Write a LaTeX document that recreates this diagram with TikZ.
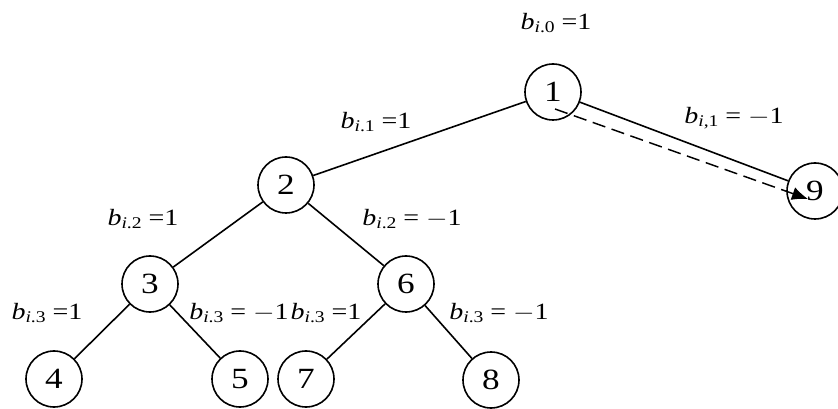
\documentclass[tikz,border=0pt]{standalone}
\usepackage{fontspec}
\usepackage{graphicx}
\setmainfont{Liberation Serif}
\usetikzlibrary{arrows.meta}
\newcommand\wideTxt[1]{\scalebox{1.2}[1]{#1}}
\newcommand\blab[2]{\wideTxt{\textit{b}\textsubscript{\textit{i}#1}\hspace{0.22em}#2}}
\tikzset{
  nd/.style={circle, draw, line width=1.2pt, minimum size=42pt, inner sep=0pt,
    font=\fontsize{22}{22}\selectfont},
  lab/.style={inner sep=0pt, font=\fontsize{17.5}{19}\selectfont},
  edge/.style={line width=1.2pt},
  dasharrow/.style={line width=1.1pt, dash pattern=on 10pt off 5pt,
    -{Latex[length=12pt,width=10pt]}}
}
\begin{document}
\begin{tikzpicture}[x=0.75pt,y=-0.75pt]
\useasboundingbox (0,0) rectangle (838,409);
\node[nd] (n1) at (553,92) {\wideTxt{1}};
\node[nd] (n2) at (286,185) {\wideTxt{2}};
\node[nd] (n3) at (150,284) {\wideTxt{3}};
\node[nd] (n6) at (406,284) {\wideTxt{6}};
\node[nd] (n4) at (54,379) {\wideTxt{4}};
\node[nd] (n5) at (240,379) {\wideTxt{5}};
\node[nd] (n7) at (306,379) {\wideTxt{7}};
\node[nd] (n8) at (491,380) {\wideTxt{8}};
\node[nd] (n9) at (815,191) {\wideTxt{9}};
\draw[edge] (n1) -- (n2);
\draw[edge] (n2) -- (n3);
\draw[edge] (n2) -- (n6);
\draw[edge] (n3) -- (n4);
\draw[edge] (n3) -- (n5);
\draw[edge] (n6) -- (n7);
\draw[edge] (n6) -- (n8);
\draw[edge] (n1) -- (n9);
\coordinate (ds) at (555,109);
\coordinate (de) at (808,199);
\draw[dasharrow] (ds) -- (de);
\node[lab] (l0) at (556,23) {\blab{.0}{=1}};
\node[lab] (l1) at (376,122) {\blab{.1}{=1}};
\node[lab] (l9) at (734,118) {\blab{,1}{= $-$1}};
\node[lab] (l2a) at (143,219) {\blab{.2}{=1}};
\node[lab] (l2b) at (412,219) {\blab{.2}{= $-$1}};
\node[lab] (l3a) at (47,313) {\blab{.3}{=1}};
\node[lab] (l3b) at (239,313) {\blab{.3}{= $-$1}};
\node[lab] (l3c) at (326,313) {\blab{.3}{=1}};
\node[lab] (l3d) at (499,313) {\blab{.3}{= $-$1}};
\end{tikzpicture}
\end{document}
